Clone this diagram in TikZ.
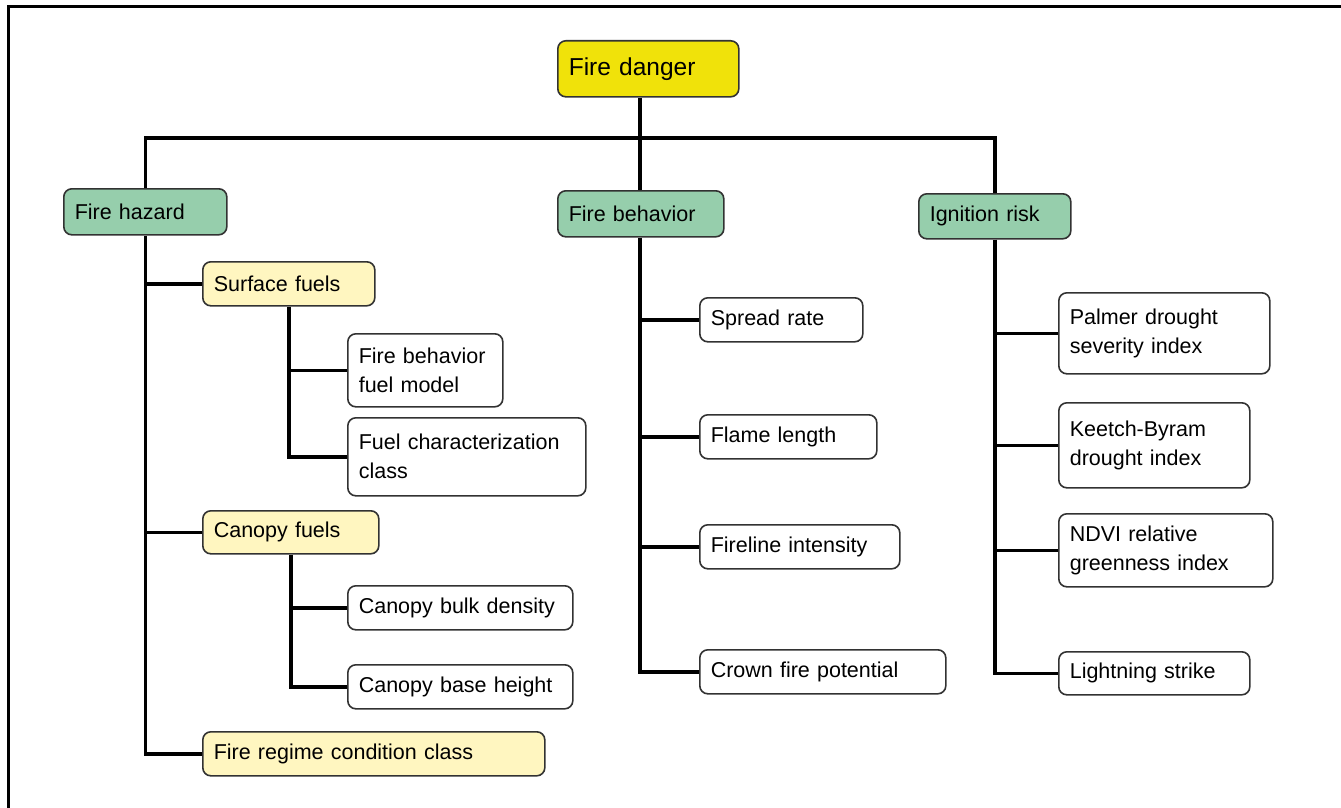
\documentclass[tikz,border=0pt]{standalone}
\usepackage{fontspec}
\setmainfont{Liberation Sans}
\definecolor{topyellow}{RGB}{240,226,10}
\definecolor{midgreen}{RGB}{150,206,172}
\definecolor{paleyellow}{RGB}{255,246,192}
\definecolor{boxline}{RGB}{50,50,50}
\begin{document}
\begin{tikzpicture}[x=1pt, y=-1pt,
    box/.style = {draw=boxline, line width=1.6pt, rounded corners=8pt, anchor=north west,
                  align=left, inner xsep=11pt, inner ysep=0pt, fill=white,
                  font=\fontsize{21.5}{29}\selectfont},
    head/.style = {box, fill=midgreen},
    sub/.style = {box, fill=paleyellow},
    link/.style = {line width=3.6pt}]
\useasboundingbox (0,0) rectangle (1341,808);
\draw[line width=3pt] (8,808) -- (8,7) -- (1341,7);

% top
\node[box, fill=topyellow, text width=159, minimum height=56, font=\fontsize{24.5}{30}\selectfont] (danger) at (557,40) {Fire danger};
\coordinate (top) at (640,138);

% second level
\node[head, text width=141, minimum height=46] (hazard) at (63,188) {Fire hazard};
\node[head, text width=144, minimum height=46] (behavior) at (557,190) {Fire behavior};
\node[head, text width=130, minimum height=45] (ignition) at (918,193) {Ignition risk};

% fire hazard
\node[sub, text width=150, minimum height=44] (surface) at (202,261) {Surface fuels};
\node[box, text width=133, minimum height=73] (fuelmodel) at (347,333) {Fire behavior\\fuel model};
\node[box, text width=216, minimum height=78] (fuelclass) at (347,417) {Fuel characterization\\class};
\node[sub, text width=154, minimum height=43] (canopy) at (202,510) {Canopy fuels};
\node[box, text width=203, minimum height=44] (bulk) at (347,585) {Canopy bulk density};
\node[box, text width=203, minimum height=44] (base) at (347,664) {Canopy base height};
\node[sub, text width=320, minimum height=44] (regime) at (202,731) {Fire regime condition class};

% fire behavior
\node[box, text width=141, minimum height=44] (spread) at (699,297) {Spread rate};
\node[box, text width=155, minimum height=44] (flame) at (699,414) {Flame length};
\node[box, text width=178, minimum height=44] (fireline) at (699,524) {Fireline intensity};
\node[box, text width=224, minimum height=44] (crown) at (699,649) {Crown fire potential};

% ignition risk
\node[box, text width=189, minimum height=81] (palmer) at (1058,292) {Palmer drought\\severity index};
\node[box, text width=169, minimum height=85] (keetch) at (1058,402) {Keetch-Byram\\drought index};
\node[box, text width=192, minimum height=73] (ndvi) at (1058,513) {NDVI relative\\greenness index};
\node[box, text width=169, minimum height=43] (lightning) at (1058,651) {Lightning strike};

% connectors
\draw[link] (danger.south -| top) -- (top);
\draw[link] (hazard.north) |- (top) -| (ignition.north);
\draw[link] (top) -- (behavior.north -| top);

\draw[link] (hazard.south) |- (regime.west);
\draw[link] (hazard.south |- surface.west) -- (surface.west);
\draw[link] (hazard.south |- canopy.west) -- (canopy.west);
\draw[link] (surface.south) |- (fuelclass.west);
\draw[link] (surface.south |- fuelmodel.west) -- (fuelmodel.west);
\draw[link] (canopy.south) |- (base.west);
\draw[link] (canopy.south |- bulk.west) -- (bulk.west);

\draw[link] (behavior.south -| top) |- (crown.west);
\draw[link] (top |- spread.west) -- (spread.west);
\draw[link] (top |- flame.west) -- (flame.west);
\draw[link] (top |- fireline.west) -- (fireline.west);

\draw[link] (ignition.south) |- (lightning.west);
\draw[link] (ignition.south |- palmer.west) -- (palmer.west);
\draw[link] (ignition.south |- keetch.west) -- (keetch.west);
\draw[link] (ignition.south |- ndvi.west) -- (ndvi.west);
\end{tikzpicture}
\end{document}
